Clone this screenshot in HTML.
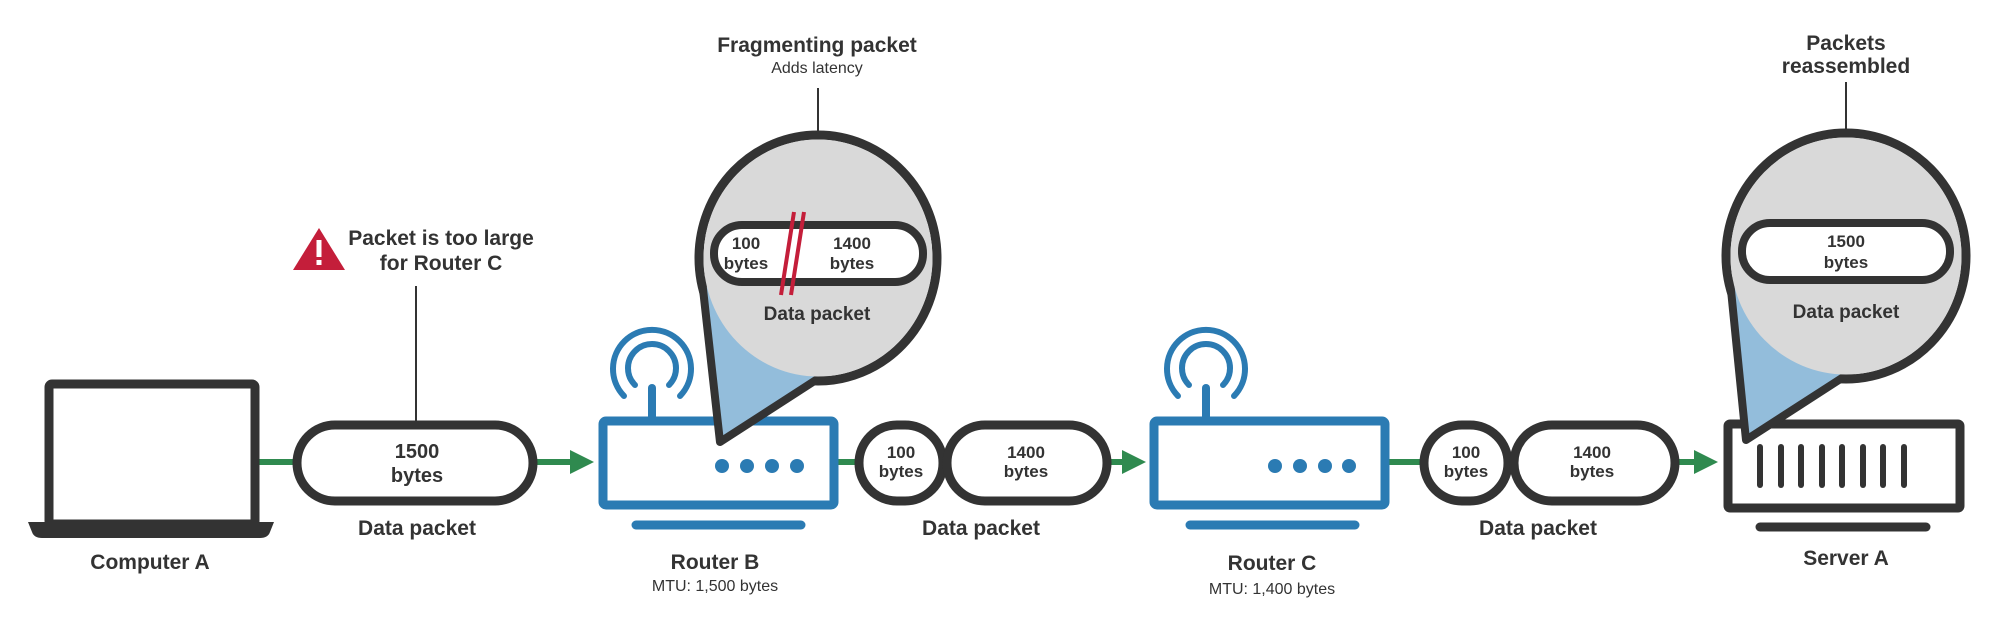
<!DOCTYPE html>
<html><head><meta charset="utf-8"><style>
html,body{margin:0;padding:0;background:#fff}
svg{display:block}
text{font-family:"Liberation Sans",sans-serif;font-weight:bold;fill:#333;text-anchor:middle}
.n{font-weight:normal}
</style></head><body>
<svg width="2000" height="644" viewBox="0 0 2000 644" xmlns="http://www.w3.org/2000/svg">
<defs>
<marker id="ar" markerWidth="4" markerHeight="4" refX="2" refY="2" orient="auto" markerUnits="strokeWidth"><path d="M0,0 L4,2 L0,4 z" fill="#2f8a4f"/></marker>
</defs>
<g stroke="#2f8a4f" stroke-width="6" fill="none">
<line x1="259" y1="462" x2="296" y2="462"/>
<line x1="536" y1="462" x2="582" y2="462" marker-end="url(#ar)"/>
<line x1="837" y1="462" x2="858" y2="462"/>
<line x1="1107" y1="462" x2="1134" y2="462" marker-end="url(#ar)"/>
<line x1="1388" y1="462" x2="1420" y2="462"/>
<line x1="1679" y1="462" x2="1706" y2="462" marker-end="url(#ar)"/>
</g>
<!-- laptop -->
<rect x="49" y="384" width="206" height="140" rx="3" fill="#fff" stroke="#333" stroke-width="9"/>
<path d="M28,522 H274 L270,532 Q268,538 260,538 H42 Q34,538 32,532 Z" fill="#333"/>
<text x="150" y="569" font-size="21">Computer A</text>
<!-- packet 1 -->
<line x1="416" y1="286" x2="416" y2="422" stroke="#333" stroke-width="2"/>
<rect x="297" y="425" width="236" height="76" rx="38" fill="#fff" stroke="#333" stroke-width="9"/>
<text x="417" y="458" font-size="20">1500</text>
<text x="417" y="482" font-size="20">bytes</text>
<text x="417" y="535" font-size="21">Data packet</text>
<path d="M319,228 L345,270 L293,270 Z" fill="#c41e3a"/>
<rect x="316.5" y="240" width="5" height="17" fill="#fff"/>
<rect x="316.5" y="260" width="5" height="5" fill="#fff"/>
<text x="441" y="245" font-size="21">Packet is too large</text>
<text x="441" y="270" font-size="21">for Router C</text>
<!-- Router B -->
<g stroke="#2b7bb3" fill="none" stroke-width="6" stroke-linecap="round">
<line x1="652" y1="418" x2="652" y2="388" stroke-width="8"/>
<path d="M635,385 A24,24 0 1 1 669,385"/>
<path d="M624,396 A39,39 0 1 1 680,396"/>
</g>
<rect x="603" y="421" width="231" height="84" rx="3" fill="#fff" stroke="#2b7bb3" stroke-width="9"/>
<g fill="#2b7bb3"><circle cx="722" cy="466" r="7"/><circle cx="747" cy="466" r="7"/><circle cx="772" cy="466" r="7"/><circle cx="797" cy="466" r="7"/></g>
<line x1="636" y1="525" x2="801" y2="525" stroke="#2b7bb3" stroke-width="9" stroke-linecap="round"/>
<text x="715" y="569" font-size="21">Router B</text>
<text x="715" y="591" font-size="16" class="n">MTU: 1,500 bytes</text>
<!-- bubble B -->
<line x1="818" y1="88" x2="818" y2="134" stroke="#333" stroke-width="2"/>
<ellipse cx="818" cy="258" rx="119" ry="123" fill="none" stroke="#333" stroke-width="9"/>
<polygon points="702,280 720,442 850,358" fill="#93bddb" stroke="#333" stroke-width="8" stroke-linejoin="round"/>
<ellipse cx="818" cy="258" rx="114.5" ry="118.5" fill="#d9d9d9"/>
<rect x="714" y="225" width="209" height="57" rx="28" fill="#fff" stroke="#333" stroke-width="8"/>
<line x1="794" y1="212" x2="781" y2="295" stroke="#c41e3a" stroke-width="4"/>
<line x1="804" y1="212" x2="791" y2="295" stroke="#c41e3a" stroke-width="4"/>
<text x="746" y="249" font-size="17">100</text>
<text x="746" y="269" font-size="17">bytes</text>
<text x="852" y="249" font-size="17">1400</text>
<text x="852" y="269" font-size="17">bytes</text>
<text x="817" y="320" font-size="19">Data packet</text>
<text x="817" y="52" font-size="21">Fragmenting packet</text>
<text x="817" y="73" font-size="16" class="n">Adds latency</text>
<!-- packets after B -->
<rect x="859" y="425" width="84" height="76" rx="38" fill="#fff" stroke="#333" stroke-width="9"/>
<rect x="947" y="425" width="160" height="76" rx="38" fill="#fff" stroke="#333" stroke-width="9"/>
<text x="901" y="458" font-size="17">100</text>
<text x="901" y="477" font-size="17">bytes</text>
<text x="1026" y="458" font-size="17">1400</text>
<text x="1026" y="477" font-size="17">bytes</text>
<text x="981" y="535" font-size="21">Data packet</text>
<!-- Router C -->
<g stroke="#2b7bb3" fill="none" stroke-width="6" stroke-linecap="round">
<line x1="1206" y1="418" x2="1206" y2="388" stroke-width="8"/>
<path d="M1189,385 A24,24 0 1 1 1223,385"/>
<path d="M1178,396 A39,39 0 1 1 1234,396"/>
</g>
<rect x="1154" y="421" width="231" height="84" rx="3" fill="#fff" stroke="#2b7bb3" stroke-width="9"/>
<g fill="#2b7bb3"><circle cx="1275" cy="466" r="7"/><circle cx="1300" cy="466" r="7"/><circle cx="1325" cy="466" r="7"/><circle cx="1349" cy="466" r="7"/></g>
<line x1="1190" y1="525" x2="1355" y2="525" stroke="#2b7bb3" stroke-width="9" stroke-linecap="round"/>
<text x="1272" y="570" font-size="21">Router C</text>
<text x="1272" y="594" font-size="16" class="n">MTU: 1,400 bytes</text>
<!-- packets after C -->
<rect x="1424" y="425" width="84" height="76" rx="38" fill="#fff" stroke="#333" stroke-width="9"/>
<rect x="1514" y="425" width="161" height="76" rx="38" fill="#fff" stroke="#333" stroke-width="9"/>
<text x="1466" y="458" font-size="17">100</text>
<text x="1466" y="477" font-size="17">bytes</text>
<text x="1592" y="458" font-size="17">1400</text>
<text x="1592" y="477" font-size="17">bytes</text>
<text x="1538" y="535" font-size="21">Data packet</text>
<!-- Server -->
<rect x="1728" y="424" width="232" height="84" rx="2" fill="#fff" stroke="#333" stroke-width="9"/>
<g stroke="#333" stroke-width="6" stroke-linecap="round">
<line x1="1760" y1="447" x2="1760" y2="485"/><line x1="1781" y1="447" x2="1781" y2="485"/>
<line x1="1801" y1="447" x2="1801" y2="485"/><line x1="1822" y1="447" x2="1822" y2="485"/>
<line x1="1842" y1="447" x2="1842" y2="485"/><line x1="1863" y1="447" x2="1863" y2="485"/>
<line x1="1883" y1="447" x2="1883" y2="485"/><line x1="1904" y1="447" x2="1904" y2="485"/>
</g>
<line x1="1760" y1="527" x2="1926" y2="527" stroke="#333" stroke-width="9" stroke-linecap="round"/>
<text x="1846" y="565" font-size="21">Server A</text>
<!-- bubble server -->
<line x1="1846" y1="82" x2="1846" y2="132" stroke="#333" stroke-width="2"/>
<ellipse cx="1846" cy="256" rx="120" ry="123" fill="none" stroke="#333" stroke-width="9"/>
<polygon points="1730,280 1746,440 1876,356" fill="#93bddb" stroke="#333" stroke-width="8" stroke-linejoin="round"/>
<ellipse cx="1846" cy="256" rx="115.5" ry="118.5" fill="#d9d9d9"/>
<rect x="1742" y="223" width="208" height="57" rx="28" fill="#fff" stroke="#333" stroke-width="8"/>
<text x="1846" y="247" font-size="17">1500</text>
<text x="1846" y="268" font-size="17">bytes</text>
<text x="1846" y="318" font-size="19">Data packet</text>
<text x="1846" y="50" font-size="21">Packets</text>
<text x="1846" y="73" font-size="21">reassembled</text>
</svg>
</body></html>
